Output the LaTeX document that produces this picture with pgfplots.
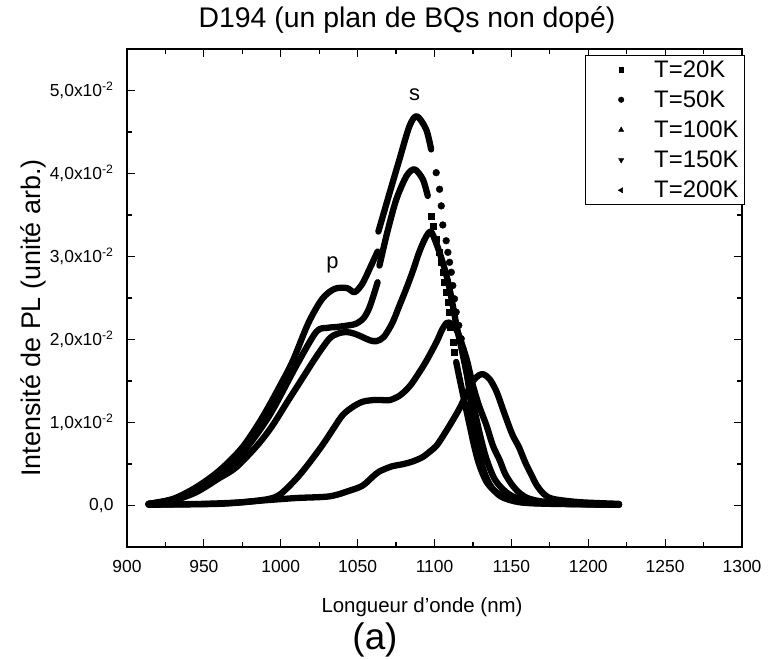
\documentclass[border=0pt]{standalone}
\usepackage{pgfplots}
\pgfplotsset{compat=1.18}
\usepackage{fontspec}
\setmainfont{Liberation Sans}
\pgfplotsset{curve/.style={black, line width=6.3bp, smooth, no markers, line join=round, line cap=round, forget plot},
 dots/.style={black, only marks, forget plot}}
\begin{document}
\begin{tikzpicture}[x=1bp,y=1bp]
\begin{axis}[
 at={(0,0)}, anchor=south west, scale only axis, width=615bp, height=498bp,
 xmin=900, xmax=1300, ymin=-0.005, ymax=0.055,
 xtick={900,950,...,1300}, minor x tick num=1,
 ytick={0,0.01,0.02,0.03,0.04,0.05}, minor y tick num=1,
 yticklabels={{0,0},{1,0x10\textsuperscript{-2}},{2,0x10\textsuperscript{-2}},{3,0x10\textsuperscript{-2}},{4,0x10\textsuperscript{-2}},{5,0x10\textsuperscript{-2}}},
 scaled y ticks=false,
 tick align=inside, major tick length=8bp, minor tick length=5bp,
 axis line style={line width=1.5bp},
 every tick/.style={line width=1.2bp, black},
 /pgf/number format/assume math mode=true, /pgf/number format/1000 sep={},
 ticklabel style={font=\fontsize{17.5}{17.5}\selectfont},
 xticklabel style={yshift=-10bp},
 yticklabel style={xshift=-10bp},
 legend style={at={(1.005,0.988)}, anchor=north east, draw=black, line width=1bp,
   font=\fontsize{24}{24}\selectfont, cells={anchor=west}, row sep=8bp,
   inner xsep=4bp, inner ysep=3bp},
 legend image code/.code={\path[draw=none,fill=none] (0bp,-4bp) rectangle (63bp,4bp); \path[draw=black,fill=black,line width=0.4bp] plot[#1] coordinates {(32bp,0bp)};},
 clip=true,
]
\addlegendimage{mark=square*, mark size=2.3bp}
\addlegendentry{T=20K}
\addlegendimage{mark=*, mark size=2.8bp}
\addlegendentry{T=50K}
\addlegendimage{mark=triangle*, mark size=3bp}
\addlegendentry{T=100K}
\addlegendimage{mark=triangle*, mark options={rotate=180}, mark size=3bp}
\addlegendentry{T=150K}
\addlegendimage{mark=triangle*, mark options={rotate=90}, mark size=3bp}
\addlegendentry{T=200K}

% T=50K (top curve): line, gap, line, separate points on the steep flank, line
\addplot[curve] coordinates {
(914,0.0002)(930,0.0008)(945,0.0022)(960,0.0042)(975,0.0070)(988,0.0106)
(1000,0.0146)(1008,0.0175)(1018,0.0220)(1027,0.0249)(1035,0.0261)(1043,0.0262)
(1048,0.0257)(1053,0.0267)(1058,0.0286)(1063,0.0306)};
\addplot[curve] coordinates {
(1063.5,0.0330)(1069.6,0.0369)(1077.2,0.0417)(1083.7,0.0457)(1088.5,0.0469)
(1094.6,0.0453)(1097.8,0.0429)};
\addplot[dots, mark=*, mark size=3.4bp] coordinates {
(1101.1,0.0401)(1103.3,0.0381)(1104.4,0.0361)(1105.4,0.0338)(1107.6,0.0319)
(1108.7,0.0305)(1109.8,0.0293)(1110.9,0.0281)(1111.9,0.0265)(1113,0.0249)
(1114.1,0.0233)(1115.8,0.0217)(1117.4,0.0201)};
\addplot[curve] coordinates {
(1119.5,0.0175)(1121.5,0.0153)
(1124.8,0.0110)(1128,0.0072)(1131.5,0.0045)(1136,0.0025)(1143,0.0011)
(1155,0.0004)(1175,0.0002)(1220,0.0001)};

% T=20K
\addplot[curve] coordinates {
(914,0.0002)(930,0.0007)(945,0.0019)(960,0.0037)(975,0.0063)(992.5,0.0108)
(1010,0.0168)(1023,0.0209)(1030,0.0214)(1036,0.0215)(1044,0.0217)(1049,0.0219)
(1054,0.0226)(1058,0.0240)(1063,0.0269)};
\addplot[curve] coordinates {
(1064.2,0.0289)(1069.4,0.0330)(1075.2,0.0369)(1081.8,0.0397)(1087,0.0405)
(1092.4,0.0393)(1095.6,0.0373)};
\addplot[dots, mark=square*, mark size=3bp] coordinates {
(1097.8,0.0349)(1098.9,0.0337)(1101.1,0.0321)(1103.3,0.0305)(1104.4,0.0293)
(1105.4,0.0281)(1106.5,0.0269)(1107.6,0.0257)(1108.7,0.0245)(1109.3,0.0233)
(1110.4,0.0215)(1111.9,0.0197)(1113,0.0185)};
\addplot[curve] coordinates {
(1114.1,0.0173)
(1116.3,0.0153)(1119.5,0.0125)(1122.8,0.0097)(1126,0.0070)(1129.3,0.0048)
(1134,0.0028)(1140.2,0.0016)(1150,0.0007)(1165,0.0003)(1220,0.0001)};

% T=100K
\addplot[curve] coordinates {
(914,0.0002)(930,0.0006)(945,0.0016)(960,0.0033)(971,0.0046)(985,0.0073)
(994.5,0.0096)(1004,0.0124)(1014,0.0153)(1023,0.0179)(1031.6,0.0201)(1037,0.0207)
(1042.7,0.0209)(1048,0.0207)(1053.1,0.0203)(1058,0.0199)(1062.2,0.0198)(1067,0.0203)
(1072.6,0.0220)(1077,0.0240)(1081.8,0.0262)(1086,0.0283)(1090,0.0305)(1094,0.0322)
(1097.6,0.0330)(1101.3,0.0315)(1105,0.0295)(1108.5,0.0272)(1111.5,0.0245)(1114.5,0.0215)
(1118,0.0185)(1122,0.0150)(1126,0.0115)(1130,0.0082)(1134,0.0055)(1139.7,0.0030)
(1148.9,0.0013)(1162,0.0005)(1188,0.0002)(1220,0.0001)};

% T=150K
\addplot[curve] coordinates {
(914,0.0001)(950,0.0002)(975,0.0004)(992.5,0.0008)(1000,0.0014)(1010,0.0032)
(1018,0.0050)(1027.2,0.0073)(1034,0.0092)(1040.3,0.0109)(1047,0.0119)(1053.3,0.0125)
(1060,0.0127)(1066,0.0127)(1071,0.0127)(1077,0.0132)(1082,0.0140)(1086,0.0149)
(1094,0.0172)(1101.3,0.0197)(1105,0.0212)(1108,0.0220)(1111,0.0219)(1115,0.0209)
(1120.8,0.0177)(1124.8,0.0146)(1129,0.0120)(1133.7,0.0097)(1138,0.0072)(1142.3,0.0055)
(1146,0.0038)(1150.8,0.0024)(1156,0.0014)(1162,0.0008)(1175,0.0004)(1220,0.0001)};

% T=200K
\addplot[curve] coordinates {
(914,0.0001)(960,0.0002)(988,0.0006)(1010,0.0009)(1031.6,0.0011)(1045,0.0018)
(1053.3,0.0024)(1060,0.0035)(1064.2,0.0041)(1072,0.0047)(1080,0.0050)(1085.7,0.0053)
(1092,0.0058)(1097,0.0065)(1101.3,0.0072)(1106,0.0085)(1111,0.0100)(1116.3,0.0117)
(1121,0.0135)(1125,0.0150)(1129,0.0157)(1132,0.0158)(1136,0.0152)(1140.4,0.0137)
(1144.3,0.0117)(1148,0.0098)(1151,0.0084)(1155,0.0070)(1159,0.0052)(1163,0.0037)
(1166.3,0.0025)(1171,0.0014)(1177,0.0008)(1194.5,0.0004)(1220,0.0002)};

\node[font=\fontsize{22}{22}\selectfont] at (axis cs:1033.6,0.0290) {p};
\node[font=\fontsize{22}{22}\selectfont] at (axis cs:1087,0.0495) {s};
\end{axis}
\node[font=\fontsize{28.5}{28.5}\selectfont] at (280,527) {D194 (un plan de BQs non dopé)};
\node[font=\fontsize{20.5}{20.5}\selectfont] at (295,-60) {Longueur d'onde (nm)};
\node[font=\fontsize{37}{37}\selectfont] at (248,-93) {(a)};
\node[font=\fontsize{27}{27}\selectfont, rotate=90] at (-94,229) {Intensité de PL (unité arb.)};
\pgfresetboundingbox
\useasboundingbox (-127,-113) rectangle (648,547);
\end{tikzpicture}
\end{document}
